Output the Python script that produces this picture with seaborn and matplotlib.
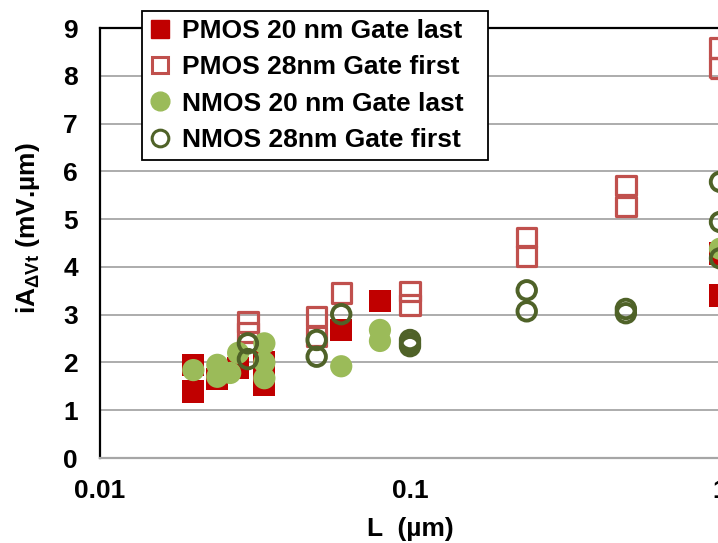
import numpy as np
import pandas as pd
import matplotlib
matplotlib.use("Agg")
import matplotlib.pyplot as plt
import seaborn as sns
from matplotlib.lines import Line2D
from matplotlib.ticker import NullLocator

# ---- data ----
pmos20_x = [0.020, 0.020, 0.0239, 0.0279, 0.0339, 0.0339, 0.060, 0.080, 1.0, 1.0]
pmos20_y = [1.39, 1.95, 1.65, 1.88, 1.53, 2.00, 2.68, 3.28, 3.40, 4.28]

pmos28_x = [0.030, 0.030, 0.050, 0.050, 0.060, 0.100, 0.100, 0.238, 0.238, 0.497, 0.497, 1.0, 1.0]
pmos28_y = [2.85, 2.63, 2.96, 2.54, 3.45, 3.48, 3.20, 4.62, 4.23, 5.70, 5.26, 8.58, 8.16]

nmos20_x = [0.020, 0.0239, 0.0239, 0.0263, 0.0279, 0.0339, 0.0339, 0.0339, 0.060, 0.080, 0.080, 1.0]
nmos20_y = [1.84, 1.95, 1.70, 1.78, 2.20, 2.40, 2.00, 1.67, 1.92, 2.68, 2.45, 4.38]

nmos28_x = [0.030, 0.030, 0.050, 0.050, 0.060, 0.100, 0.100, 0.100, 0.238, 0.238, 0.497, 0.497, 1.0, 1.0, 1.0]
nmos28_y = [2.40, 2.07, 2.47, 2.12, 3.01, 2.47, 2.40, 2.34, 3.51, 3.07, 3.12, 3.03, 5.78, 4.94, 4.18]

labels = ["PMOS 20 nm Gate last", "PMOS 28nm Gate first",
          "NMOS 20 nm Gate last", "NMOS 28nm Gate first"]
x_ticks = [0.01, 0.1, 1]
x_ticklabels = ["0.01", "0.1", "1"]
y_ticks = list(range(0, 10))

# ---- style ----
sns.set_theme(style="white")
plt.rcParams["font.family"] = ["Liberation Sans", "DejaVu Sans"]
plt.rcParams["font.weight"] = "bold"
plt.rcParams["text.color"] = "black"
plt.rcParams["axes.labelcolor"] = "black"
plt.rcParams["xtick.color"] = "black"
plt.rcParams["ytick.color"] = "black"
plt.rcParams["mathtext.fontset"] = "custom"
plt.rcParams["mathtext.rm"] = "Liberation Sans:bold"
plt.rcParams["mathtext.it"] = "Liberation Sans:bold"
plt.rcParams["mathtext.bf"] = "Liberation Sans:bold"

RED = "#C00000"
RED_H = "#C0504D"
GREEN = "#9BBB59"
DGREEN = "#4F6228"
GRID = "#A6A6A6"
FS = 19

fig = plt.figure(figsize=(7.18, 5.43), dpi=100)
ax = fig.add_axes([100 / 718, 85 / 543, 620 / 718, 430 / 543])

for yv in y_ticks[1:]:
    ax.axhline(yv, color=GRID, lw=1.3, zorder=0)

sns.scatterplot(x=pmos20_x, y=pmos20_y, ax=ax, marker="s", s=16 ** 2,
                color=RED, edgecolor="none", linewidth=0, zorder=3, clip_on=False)
sns.scatterplot(x=pmos28_x, y=pmos28_y, ax=ax, marker="s", s=14 ** 2,
                color=RED_H, facecolors="none", edgecolor=RED_H, linewidth=2.3,
                zorder=3, clip_on=False)
sns.scatterplot(x=nmos20_x, y=nmos20_y, ax=ax, marker="o", s=16 ** 2,
                color=GREEN, edgecolor="none", linewidth=0, zorder=4, clip_on=False)
sns.scatterplot(x=nmos28_x, y=nmos28_y, ax=ax, marker="o", s=13.3 ** 2,
                color=DGREEN, facecolors="none", edgecolor=DGREEN, linewidth=2.8,
                zorder=5, clip_on=False)

ax.set_xscale("log")
ax.set_xlim(0.01, 1)
ax.set_ylim(0, 9)
ax.set_xticks(x_ticks)
ax.set_xticklabels(x_ticklabels)
ax.xaxis.set_minor_locator(NullLocator())
ax.set_yticks(y_ticks)
ax.set_yticklabels([str(v) for v in y_ticks])

ax.tick_params(axis="x", direction="out", length=6, width=1.3, color=GRID,
               labelcolor="black", labelsize=FS, pad=9)
ax.tick_params(axis="y", length=0, labelsize=FS, pad=16, labelcolor="black")
for lab in ax.get_xticklabels() + ax.get_yticklabels():
    lab.set_fontweight("bold")

for side in ["left", "top"]:
    ax.spines[side].set_color("black")
    ax.spines[side].set_linewidth(1.6)
ax.spines["bottom"].set_color(GRID)
ax.spines["bottom"].set_linewidth(1.6)
ax.spines["right"].set_visible(False)

ax.set_xlabel("L  (µm)", fontsize=FS, fontweight="bold")
ax.xaxis.set_label_coords(0.5, -0.138)
ax.set_ylabel(r"iA$_{\Delta\mathrm{Vt}}$ (mV.µm)", fontsize=FS, fontweight="bold")
ax.yaxis.set_label_coords(-0.094, 0.535)

handles = [
    Line2D([], [], ls="none", marker="s", ms=13.5, mfc=RED, mec=RED),
    Line2D([], [], ls="none", marker="s", ms=12, mfc="none", mec=RED_H, mew=2.2),
    Line2D([], [], ls="none", marker="o", ms=13.5, mfc=GREEN, mec=GREEN),
    Line2D([], [], ls="none", marker="o", ms=12, mfc="none", mec=DGREEN, mew=2.2),
]
leg = ax.legend(handles, labels, loc="upper left",
                bbox_to_anchor=(142 / 718, 1 - 157 / 543, 346 / 718, 146 / 543),
                bbox_transform=fig.transFigure, mode="expand",
                borderaxespad=0, frameon=True, fancybox=False, framealpha=1,
                edgecolor="black", handlelength=0.8, handletextpad=0.42,
                labelspacing=0.47, borderpad=0.3,
                prop={"size": FS, "weight": "bold"})
leg.get_frame().set_linewidth(1.3)
leg.set_zorder(10)

fig.savefig("out.png", dpi=100)
